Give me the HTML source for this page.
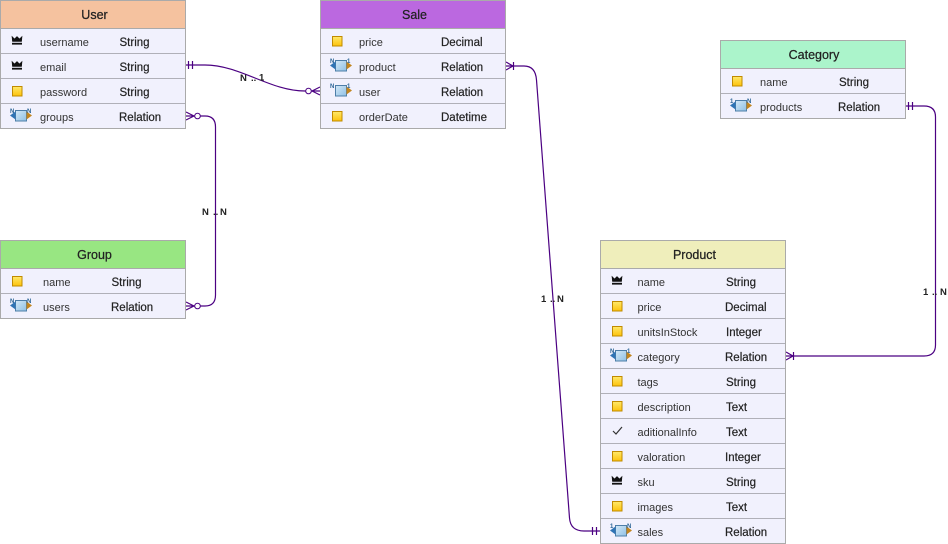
<!DOCTYPE html>
<html><head><meta charset="utf-8"><style>
html,body{margin:0;padding:0;background:#fff}
svg{display:block}
text{font-family:"Liberation Sans",sans-serif;fill:#222}
.h{font-size:12.5px;text-anchor:middle;stroke:#222;stroke-width:.25}
.n{font-size:11px;fill:#333}
.t{font-size:11.5px;fill:#222;stroke:#222;stroke-width:.2}
.l{font-size:9.5px;font-weight:bold;fill:#222}
.s{font-size:6px;font-weight:bold;fill:#2a6496}
.c{fill:none;stroke:#4b0082;stroke-width:1.2}
.b{fill:#f1f1fd;stroke:#aaa;stroke-width:1}
.d{stroke:#b0b0b8;stroke-width:1}
</style></head><body>
<svg width="948" height="544" viewBox="0 0 948 544" xmlns="http://www.w3.org/2000/svg">
<defs>
<linearGradient id="g" x1="0" y1="0" x2="0" y2="1"><stop offset="0" stop-color="#ffe96b"/><stop offset="1" stop-color="#fdc20a"/></linearGradient>
<linearGradient id="bl" x1="0" y1="0" x2="1" y2="1"><stop offset="0" stop-color="#d3e8f7"/><stop offset="1" stop-color="#8fc0e4"/></linearGradient>
<g id="key"><rect x="-4.500" y="-4.500" width="9.500" height="9.500" fill="url(#g)" stroke="#c08a00"/></g>
<g id="crown"><path d="M-5-4.500L-2.500-2L0-4.500L2.500-2L5-4.500L4.500 .5H-4.500Z" fill="#111" stroke="#111" stroke-width=".6"/><rect x="-5" y="1.800" width="10" height="1.800" fill="#111"/></g>
<g id="box"><rect x="-5.500" y="-5.500" width="11" height="10.500" fill="url(#bl)" stroke="#4d7ea8"/></g>
<path id="al" d="M-11-.5L-5.500-4.500V3.500Z" fill="#2f74b5"/>
<path id="ar" d="M5.500-4.500L11-.5L5.500 3.500Z" fill="#c2851f"/>
</defs>

<!-- connectors -->
<path class="c" d="M186 65H205C240 65 270 91 305 91H320"/>
<path class="c" d="M186 116H205Q215.500 116 215.500 127V295Q215.500 306 205 306H186"/>
<path class="c" d="M506 66H524Q535.500 66 536.500 80L569.500 518Q570.500 531 584 531H600"/>
<path class="c" d="M906 106H924Q935.500 106 935.500 117V345Q935.500 356 924 356H786"/>

<!-- markers -->
<path class="c" d="M188.500 61V69M192.500 61V69"/>
<circle cx="308.500" cy="91" r="2.800" fill="#fff" stroke="#4b0082"/>
<path class="c" d="M312 91L320 87M312 91L320 95"/>
<circle cx="197.500" cy="116" r="2.800" fill="#fff" stroke="#4b0082"/>
<path class="c" d="M194 116L186 112M194 116L186 120"/>
<circle cx="197.500" cy="306" r="2.800" fill="#fff" stroke="#4b0082"/>
<path class="c" d="M194 306L186 302M194 306L186 310"/>
<path class="c" d="M513.500 62V70M513 66L506 62M513 66L506 70"/>
<path class="c" d="M592.500 527V535M596.500 527V535"/>
<path class="c" d="M908.500 102V110M912.500 102V110"/>
<path class="c" d="M793.500 352V360M793 356L786 352M793 356L786 360"/>

<!-- connector labels -->
<text class="l" x="240" y="81">N</text><text class="l" x="251" y="81">..</text><text class="l" x="259" y="80.500">1</text>
<text class="l" x="202" y="215">N</text><text class="l" x="213" y="215">..</text><text class="l" x="220" y="215">N</text>
<text class="l" x="541" y="302">1</text><text class="l" x="550" y="302">..</text><text class="l" x="557" y="302">N</text>
<text class="l" x="923" y="295">1</text><text class="l" x="932" y="295">..</text><text class="l" x="940" y="295">N</text>

<!-- User -->
<rect class="b" x=".5" y=".5" width="185" height="128"/>
<rect x=".5" y=".5" width="185" height="28" fill="#f5c29f" stroke="#aaa"/>
<path class="d" d="M1 53.500H185M1 78.500H185M1 103.500H185"/>
<text class="h" x="94.500" y="19">User</text>
<use href="#crown" x="17" y="41"/><use href="#crown" x="17" y="66"/><use href="#key" x="17" y="91"/>
<use href="#box" x="21" y="116"/><use href="#al" x="21" y="116"/><use href="#ar" x="21" y="116"/>
<text class="s" x="10" y="113">N</text><text class="s" x="27" y="113">N</text>
<text class="n" x="40" y="46">username</text><text class="t" x="119.500" y="46">String</text>
<text class="n" x="40" y="71">email</text><text class="t" x="119.500" y="71">String</text>
<text class="n" x="40" y="96">password</text><text class="t" x="119.500" y="96">String</text>
<text class="n" x="40" y="121">groups</text><text class="t" x="119" y="121">Relation</text>

<!-- Sale -->
<rect class="b" x="320.500" y=".5" width="185" height="128"/>
<rect x="320.500" y=".5" width="185" height="28" fill="#bb68e0" stroke="#aaa"/>
<path class="d" d="M321 53.500H505M321 78.500H505M321 103.500H505"/>
<text class="h" x="414.500" y="19">Sale</text>
<use href="#key" x="337" y="41"/>
<use href="#box" x="341" y="66"/><use href="#al" x="341" y="66"/><use href="#ar" x="341" y="66"/>
<text class="s" x="330" y="63">N</text><text class="s" x="347" y="63">1</text>
<use href="#box" x="341" y="91"/><use href="#ar" x="341" y="91"/>
<text class="s" x="330" y="88">N</text><text class="s" x="347" y="88">1</text>
<use href="#key" x="337" y="116"/>
<text class="n" x="359" y="46">price</text><text class="t" x="441" y="46">Decimal</text>
<text class="n" x="359" y="71">product</text><text class="t" x="441" y="71">Relation</text>
<text class="n" x="359" y="96">user</text><text class="t" x="441" y="96">Relation</text>
<text class="n" x="359" y="121">orderDate</text><text class="t" x="441" y="121">Datetime</text>

<!-- Category -->
<rect class="b" x="720.500" y="40.500" width="185" height="78"/>
<rect x="720.500" y="40.500" width="185" height="28" fill="#abf4cb" stroke="#aaa"/>
<path class="d" d="M721 93.500H905"/>
<text class="h" x="814" y="59">Category</text>
<use href="#key" x="737" y="81"/>
<use href="#box" x="741" y="106"/><use href="#al" x="741" y="106"/><use href="#ar" x="741" y="106"/>
<text class="s" x="730" y="103">1</text><text class="s" x="747" y="103">N</text>
<text class="n" x="760" y="86">name</text><text class="t" x="839" y="86">String</text>
<text class="n" x="760" y="111">products</text><text class="t" x="838" y="111">Relation</text>

<!-- Group -->
<rect class="b" x=".5" y="240.500" width="185" height="78"/>
<rect x=".5" y="240.500" width="185" height="28" fill="#98e682" stroke="#aaa"/>
<path class="d" d="M1 293.500H185"/>
<text class="h" x="94.500" y="259">Group</text>
<use href="#key" x="17" y="281"/>
<use href="#box" x="21" y="306"/><use href="#al" x="21" y="306"/><use href="#ar" x="21" y="306"/>
<text class="s" x="10" y="303">N</text><text class="s" x="27" y="303">N</text>
<text class="n" x="43" y="286">name</text><text class="t" x="111.500" y="286">String</text>
<text class="n" x="43" y="311">users</text><text class="t" x="111" y="311">Relation</text>

<!-- Product -->
<rect class="b" x="600.500" y="240.500" width="185" height="303"/>
<rect x="600.500" y="240.500" width="185" height="28" fill="#efeebb" stroke="#aaa"/>
<path class="d" d="M601 293.500H785M601 318.500H785M601 343.500H785M601 368.500H785M601 393.500H785M601 418.500H785M601 443.500H785M601 468.500H785M601 493.500H785M601 518.500H785"/>
<text class="h" x="694.500" y="259">Product</text>
<use href="#crown" x="617" y="281"/>
<use href="#key" x="617" y="306"/>
<use href="#key" x="617" y="331"/>
<use href="#box" x="621" y="356"/><use href="#al" x="621" y="356"/><use href="#ar" x="621" y="356"/>
<text class="s" x="610" y="353">N</text><text class="s" x="627" y="353">1</text>
<use href="#key" x="617" y="381"/>
<use href="#key" x="617" y="406"/>
<path d="M613 431L616 434L622 427" fill="none" stroke="#333" stroke-width="1.200"/>
<use href="#key" x="617" y="456"/>
<use href="#crown" x="617" y="481"/>
<use href="#key" x="617" y="506"/>
<use href="#box" x="621" y="531"/><use href="#al" x="621" y="531"/><use href="#ar" x="621" y="531"/>
<text class="s" x="610" y="528">1</text><text class="s" x="627" y="528">N</text>
<text class="n" x="637.500" y="286">name</text><text class="t" x="726" y="286">String</text>
<text class="n" x="637.500" y="311">price</text><text class="t" x="725" y="311">Decimal</text>
<text class="n" x="637.500" y="336">unitsInStock</text><text class="t" x="726" y="336">Integer</text>
<text class="n" x="637.500" y="361">category</text><text class="t" x="725" y="361">Relation</text>
<text class="n" x="637.500" y="386">tags</text><text class="t" x="726" y="386">String</text>
<text class="n" x="637.500" y="411">description</text><text class="t" x="726" y="411">Text</text>
<text class="n" x="637.500" y="436">aditionalInfo</text><text class="t" x="726" y="436">Text</text>
<text class="n" x="637.500" y="461">valoration</text><text class="t" x="725" y="461">Integer</text>
<text class="n" x="637.500" y="486">sku</text><text class="t" x="726" y="486">String</text>
<text class="n" x="637.500" y="511">images</text><text class="t" x="726" y="511">Text</text>
<text class="n" x="637.500" y="536">sales</text><text class="t" x="725" y="536">Relation</text>
</svg>
</body></html>
